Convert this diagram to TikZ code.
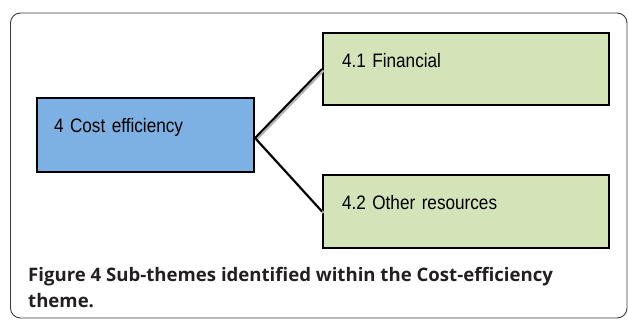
\documentclass[tikz,border=0pt]{standalone}
\usepackage{fontspec}
\usetikzlibrary{calc}
\newfontfamily\boxfont[FakeStretch=0.88,WordSpace=0.6]{Liberation Sans}
\newfontfamily\capfont{Open Sans}
\definecolor{bluefill}{HTML}{7DB1E3}
\definecolor{greenfill}{HTML}{D3E4B9}
\definecolor{captext}{HTML}{231F20}
\definecolor{framec}{HTML}{3A3A3A}
\begin{document}
\begin{tikzpicture}[x=1pt,y=1pt,
  boxstyle/.style={draw=black, line width=2pt, anchor=north west, inner ysep=0pt,
    align=left, font=\boxfont\fontsize{19.5}{22}\selectfont},
  conn/.style={line width=2pt, black},
  connshadow/.style={line width=2.4pt, black!30},
  capstyle/.style={anchor=base west, inner sep=0pt, text=captext,
    font=\capfont\fontsize{18.6}{26}\selectfont\bfseries}]
\useasboundingbox (0,0) rectangle (628,320);
\draw[framec, line width=0.9pt, rounded corners=10pt] (10.5,2) rectangle (627,307);
% boxes
\node[boxstyle, fill=bluefill, inner xsep=17pt, text width=183pt,
  text height=35pt, text depth=39pt] (cost) at (36,223) {4 Cost efficiency};
\node[boxstyle, fill=greenfill, inner xsep=19pt, text width=248pt,
  text height=34.5pt, text depth=37.5pt] (fin) at (322,288) {4.1 Financial};
\node[boxstyle, fill=greenfill, inner xsep=19pt, text width=248pt,
  text height=35pt, text depth=38pt] (oth) at (322,146) {4.2 Other resources};
% connectors
\coordinate (cs) at ($(cost.east)+(0,-3)$);
\draw[connshadow] ([shift={(1.5,-1.5)}]cs) -- ([shift={(1.5,-1.5)}]fin.west);
\draw[connshadow] ([shift={(1.5,-1.5)}]cs) -- ([shift={(1.5,-1.5)}]oth.west);
\draw[conn] (cs) -- (fin.west);
\draw[conn] (cs) -- (oth.west);
% caption
\node[capstyle] (cap1) at (28,38) {Figure 4 Sub-themes identified within the Cost-efficiency};
\node[capstyle] (cap2) at ($(cap1.base west)+(0,-26)$) {theme.};
\end{tikzpicture}
\end{document}
